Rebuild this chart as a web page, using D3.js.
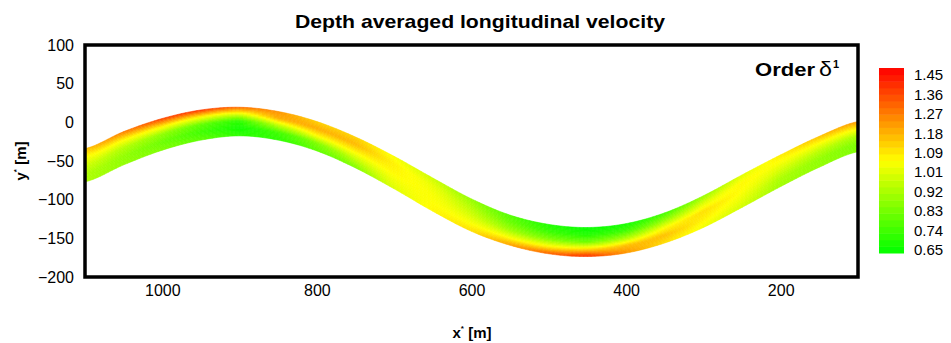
<!DOCTYPE html>
<html>
<head>
<meta charset="utf-8">
<script src="https://cdn.jsdelivr.net/npm/d3@7"></script>
<style>
  body { margin: 0; background: #fff; }
  text { font-family: "Liberation Sans", Arial, sans-serif; }
</style>
</head>
<body>
<svg id="chart" width="951" height="343"></svg>
<script>
// stations along the channel (x*) and the two bank lines (y*)
var xStations  = [1100, 1050, 1000, 950, 900, 850, 800, 750, 700, 650, 600, 550, 500, 450, 400, 350, 300, 250, 200, 150, 100];
var bankTop    = [-34, -12, 5, 16, 19.5, 14, 1, -19, -44, -72, -99, -120, -132, -136, -131, -117, -95, -68, -42, -18, 1];
var bankBottom = [-77, -55, -36, -23, -17.5, -23, -37, -59, -86, -115, -141, -159, -170, -173.5, -169, -156, -136, -110, -83, -58, -38];

// depth averaged velocity, from the top bank to the bottom bank
var lateral = [0, 0.25, 0.5, 0.75, 1];
var velTop  = [1.15, 1.26, 1.36, 1.38, 1.30, 1.22, 1.12, 1.12, 1.04, 0.97, 0.88, 0.78, 0.70, 0.66, 0.68, 0.75, 0.88, 1.00, 1.08, 1.15, 1.22];
var velQ1   = [1.05, 1.06, 1.08, 1.05, 1.00, 1.18, 1.18, 1.16, 1.07, 1.02, 0.93, 0.82, 0.74, 0.70, 0.75, 0.88, 1.00, 1.06, 1.04, 1.04, 1.06];
var velMid  = [0.98, 0.93, 0.88, 0.80, 0.72, 0.95, 1.05, 1.06, 1.06, 1.04, 0.98, 0.90, 0.85, 0.82, 0.92, 1.05, 1.10, 1.05, 0.98, 0.94, 0.92];
var velQ3   = [0.93, 0.88, 0.82, 0.75, 0.68, 0.75, 0.85, 0.95, 1.03, 1.05, 1.04, 1.04, 1.05, 1.10, 1.15, 1.15, 1.07, 1.02, 0.92, 0.88, 0.85];
var velBot  = [0.92, 0.88, 0.85, 0.80, 0.72, 0.72, 0.80, 0.85, 1.00, 1.06, 1.10, 1.20, 1.30, 1.38, 1.22, 1.10, 1.03, 0.98, 0.90, 0.88, 0.85];

var xTicks = [1000, 800, 600, 400, 200];
var yTicks = [100, 50, 0, -50, -100, -150, -200];
var colorTicks = [1.45, 1.36, 1.27, 1.18, 1.09, 1.01, 0.92, 0.83, 0.74, 0.65];

var svg = d3.select('#chart');
var plotL = 85, plotR = 858, plotT = 45, plotB = 277;

var x = d3.scaleLinear().domain([1100, 100]).range([plotL, plotR]);
var y = d3.scaleLinear().domain([100, -200]).range([plotT, plotB]);
var color = d3.scaleLinear()
    .domain([0.65, 1.05, 1.45])
    .range(['#00ff00', '#ffff00', '#ff0000'])
    .clamp(true);

var vel = [velTop, velQ1, velMid, velQ3, velBot];

// smooth bank line between stations (catmull-rom through the read points)
function bankAt(arr, i, s) {
  var p0 = arr[Math.max(i - 1, 0)], p1 = arr[i], p2 = arr[i + 1], p3 = arr[Math.min(i + 2, arr.length - 1)];
  return 0.5 * (2 * p1 + (-p0 + p2) * s + (2 * p0 - 5 * p1 + 4 * p2 - p3) * s * s + (-p0 + 3 * p1 - 3 * p2 + p3) * s * s * s);
}

// velocity field: each mesh cell is shaded between its four node values
var cells = [];
var nS = 10, nL = 6;
for (var i = 0; i < xStations.length - 1; i++) {
  for (var j = 0; j < lateral.length - 1; j++) {
    for (var a = 0; a < nS; a++) {
      for (var b = 0; b < nL; b++) {
        var s0 = a / nS, s1 = (a + 1) / nS;
        var f0 = lateral[j] + (lateral[j + 1] - lateral[j]) * b / nL;
        var f1 = lateral[j] + (lateral[j + 1] - lateral[j]) * (b + 1) / nL;
        var pt = function (s, f) {
          var xv = xStations[i] + (xStations[i + 1] - xStations[i]) * s;
          var t = bankAt(bankTop, i, s);
          var bt = bankAt(bankBottom, i, s);
          return [x(xv), y(t + (bt - t) * f)];
        };
        var sm = (a + 0.5) / nS, lm = (b + 0.5) / nL;
        var v = (1 - sm) * ((1 - lm) * vel[j][i] + lm * vel[j + 1][i]) +
                sm * ((1 - lm) * vel[j][i + 1] + lm * vel[j + 1][i + 1]);
        cells.push({ pts: [pt(s0, f0), pt(s1, f0), pt(s1, f1), pt(s0, f1)], v: v });
      }
    }
  }
}

svg.append('g')
  .selectAll('polygon')
  .data(cells)
  .enter()
  .append('polygon')
  .attr('points', function (d) { return d.pts.map(function (p) { return p.join(','); }).join(' '); })
  .attr('fill', function (d) { return color(d.v); })
  .attr('stroke', function (d) { return color(d.v); })
  .attr('stroke-width', 0.6);

// frame
svg.append('rect')
  .attr('x', plotL).attr('y', plotT)
  .attr('width', plotR - plotL).attr('height', plotB - plotT)
  .attr('fill', 'none')
  .attr('stroke', '#000')
  .attr('stroke-width', 3.5);

// axes
var yAxis = svg.append('g')
  .attr('transform', 'translate(' + plotL + ',0)')
  .call(d3.axisLeft(y).tickValues(yTicks).tickSize(0).tickPadding(11).tickFormat(d3.format('d')));
var xAxis = svg.append('g')
  .attr('transform', 'translate(0,' + plotB + ')')
  .call(d3.axisBottom(x).tickValues(xTicks).tickSize(0).tickPadding(8).tickFormat(d3.format('d')));
[xAxis, yAxis].forEach(function (g) {
  g.select('.domain').remove();
  g.selectAll('text')
    .attr('font-family', '"Liberation Sans", Arial, sans-serif')
    .attr('font-size', '16px')
    .attr('fill', '#000');
});

// title
svg.append('text')
  .attr('x', 480).attr('y', 28)
  .attr('text-anchor', 'middle')
  .attr('font-size', '18.5px')
  .attr('font-weight', 'bold')
  .attr('textLength', 370)
  .attr('lengthAdjust', 'spacingAndGlyphs')
  .text('Depth averaged longitudinal velocity');

// axis titles
var xt = svg.append('text')
  .attr('x', 472).attr('y', 338)
  .attr('text-anchor', 'middle')
  .attr('font-size', '15px')
  .attr('font-weight', 'bold');
xt.append('tspan').text('x');
xt.append('tspan').attr('font-size', '8px').attr('dy', -7).text('*');
xt.append('tspan').attr('dy', 7).text(' [m]');

var yt = svg.append('text')
  .attr('transform', 'translate(26,' + ((plotT + plotB) / 2) + ') rotate(-90)')
  .attr('text-anchor', 'middle')
  .attr('font-size', '15px')
  .attr('font-weight', 'bold');
yt.append('tspan').text('y');
yt.append('tspan').attr('font-size', '8px').attr('dy', -7).text('*');
yt.append('tspan').attr('dy', 7).text(' [m]');

// order label
svg.append('text')
  .attr('x', 755).attr('y', 76)
  .attr('font-size', '19px')
  .attr('font-weight', 'bold')
  .attr('textLength', 60)
  .attr('lengthAdjust', 'spacingAndGlyphs')
  .text('Order');
svg.append('text')
  .attr('x', 819).attr('y', 76)
  .attr('font-size', '20px')
  .attr('textLength', 13)
  .attr('lengthAdjust', 'spacingAndGlyphs')
  .text('δ');
svg.append('text')
  .attr('x', 833).attr('y', 68)
  .attr('font-size', '11px')
  .attr('font-weight', 'bold')
  .text('1');

// colour bar
var nLevels = 28;
var cbTop = 68, cbBottom = 253, cbX = 879, cbW = 25;
var cbY = d3.scaleLinear().domain([0, nLevels]).range([cbBottom, cbTop]);
var levelVal = d3.scaleLinear().domain([0, nLevels]).range([0.65, 1.45]);
svg.append('g')
  .selectAll('rect')
  .data(d3.range(nLevels))
  .enter()
  .append('rect')
  .attr('x', cbX)
  .attr('y', function (k) { return cbY(k + 1); })
  .attr('width', cbW)
  .attr('height', function (k) { return cbY(k) - cbY(k + 1) + 0.5; })
  .attr('fill', function (k) { return color(levelVal(k + 0.5)); });

var tickY = d3.scaleLinear().domain([0.65, 1.45]).range([250, 75]);
svg.append('g')
  .selectAll('text')
  .data(colorTicks)
  .enter()
  .append('text')
  .attr('x', 914)
  .attr('y', function (d, i) { return tickY(0.65) + (tickY(1.45) - tickY(0.65)) * (colorTicks.length - 1 - i) / (colorTicks.length - 1); })
  .attr('dy', '0.35em')
  .attr('font-size', '15px')
  .text(function (d) { return d.toFixed(2); });
</script>
</body>
</html>
